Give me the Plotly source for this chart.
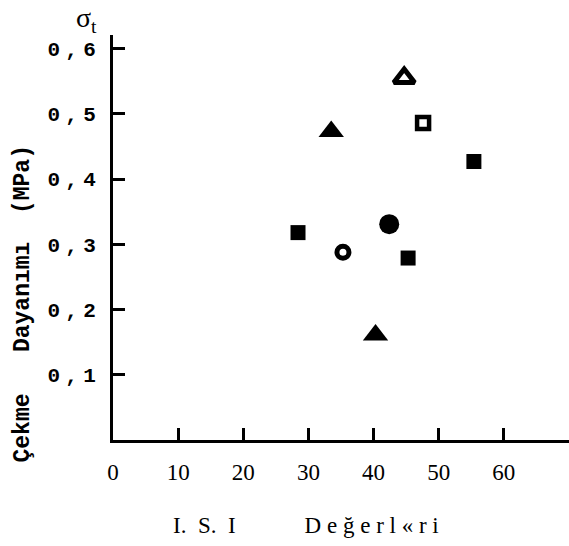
import plotly.graph_objects as go

# ---- data ----
tri_x = [33.5, 40.3]
tri_y = [0.473, 0.161]
tri_open_x = [44.7]
tri_open_y = [0.555]
sq_open_x = [47.6]
sq_open_y = [0.486]
sq_x = [28.4, 45.3, 55.4]
sq_y = [0.318, 0.279, 0.427]
circ_open_x = [35.3]
circ_open_y = [0.288]
circ_x = [42.4]
circ_y = [0.331]

x_ticks = [0, 10, 20, 30, 40, 50, 60]
x_ticktext = ["0", "10", "20", "30", "40", "50", "60"]
y_ticks = [0.1, 0.2, 0.3, 0.4, 0.5, 0.6]
y_ticktext = ["0\u2005,\u20051", "0\u2005,\u20052", "0\u2005,\u20053",
              "0\u2005,\u20054", "0\u2005,\u20055", "0\u2005,\u20056"]

W, H = 569, 546
L, R, T, B = 113, 0, 35, 106
PW, PH = W - L - R, H - T - B


def px(xp):
    return (xp - L) / PW


def py(yp):
    return (H - B - yp) / PH


fig = go.Figure()
fig.add_trace(go.Scatter(x=tri_x, y=tri_y, mode="markers",
                         marker=dict(symbol="triangle-up", size=22, color="black"),
                         cliponaxis=False))
fig.add_trace(go.Scatter(x=tri_open_x, y=tri_open_y, mode="markers",
                         marker=dict(symbol="triangle-up-open", size=18, color="black",
                                     line=dict(width=5, color="black")),
                         cliponaxis=False))
fig.add_trace(go.Scatter(x=sq_open_x, y=sq_open_y, mode="markers",
                         marker=dict(symbol="square-open", size=12, color="black",
                                     line=dict(width=4.5, color="black")),
                         cliponaxis=False))
fig.add_trace(go.Scatter(x=sq_x, y=sq_y, mode="markers",
                         marker=dict(symbol="square", size=15, color="black"),
                         cliponaxis=False))
fig.add_trace(go.Scatter(x=circ_open_x, y=circ_open_y, mode="markers",
                         marker=dict(symbol="circle-open", size=12, color="black",
                                     line=dict(width=5, color="black")),
                         cliponaxis=False))
fig.add_trace(go.Scatter(x=circ_x, y=circ_y, mode="markers",
                         marker=dict(symbol="circle", size=20, color="black"),
                         cliponaxis=False))

fig.update_layout(
    width=W, height=H,
    margin=dict(l=L, r=R, t=T, b=B),
    paper_bgcolor="white", plot_bgcolor="white",
    showlegend=False,
    xaxis=dict(range=[0, 70], showgrid=False, zeroline=False,
               showline=True, linecolor="black", linewidth=3,
               ticks="inside", ticklen=12, tickwidth=3, tickcolor="black",
               tickvals=x_ticks, ticktext=x_ticktext,
               tickfont=dict(family="Liberation Serif", size=23, color="black"),
               ticklabelstandoff=9),
    yaxis=dict(range=[0, 0.621], showgrid=False, zeroline=False,
               showline=True, linecolor="black", linewidth=3,
               ticks="inside", ticklen=12, tickwidth=3, tickcolor="black",
               tickvals=y_ticks, ticktext=y_ticktext,
               tickfont=dict(family="Liberation Mono", size=21, color="black",
                             weight="bold"),
               ticklabelstandoff=10),
    font=dict(color="black"),
)

fig.add_annotation(
    text="Çekme   Dayanımı  (MPa)",
    xref="paper", yref="paper", x=px(22), y=py(304.5),
    xanchor="center", yanchor="middle", textangle=-90, showarrow=False,
    font=dict(family="Liberation Mono", size=23, color="black", weight="bold"))

fig.add_annotation(
    text="I.\u2002S.\u2002I" + "\u2003\u2003\u2003" +
         "\u2005".join(list("Değerl«ri")),
    xref="paper", yref="paper", x=px(306), y=py(525),
    xanchor="center", yanchor="middle", showarrow=False,
    font=dict(family="Liberation Serif", size=23, color="black"))

fig.add_annotation(
    text="σ<sub>t</sub>",
    xref="paper", yref="paper", x=px(86), y=py(19),
    xanchor="center", yanchor="middle", showarrow=False,
    font=dict(family="Liberation Serif", size=28, color="black"))

fig.write_html("out.html")
